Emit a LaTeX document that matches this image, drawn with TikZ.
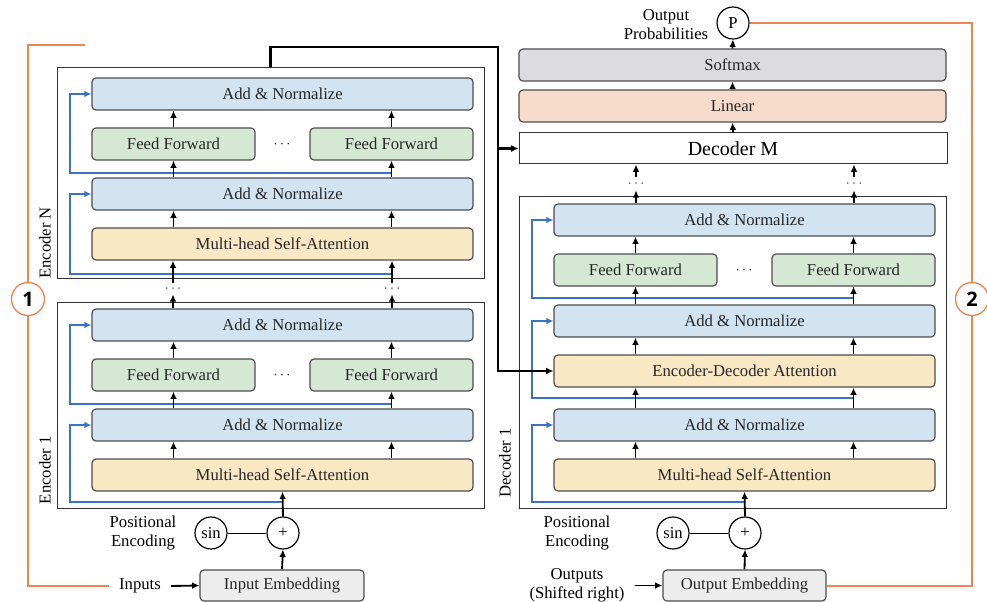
\documentclass[tikz,border=0pt]{standalone}
\usepackage{fontspec}
\setmainfont{Liberation Serif}
\newfontfamily\numfont{Open Sans}
\usetikzlibrary{arrows.meta,calc}

\definecolor{normblue}{HTML}{D2E3F2}
\definecolor{ffgreen}{HTML}{D5E8D4}
\definecolor{attnyellow}{HTML}{F9E8C3}
\definecolor{linsalmon}{HTML}{F8DCCB}
\definecolor{smgray}{HTML}{DCDCDF}
\definecolor{embgray}{HTML}{EDEDED}
\definecolor{resblue}{HTML}{3B72C3}
\definecolor{looporange}{HTML}{EE8450}

\tikzset{
  sz/.style 2 args={minimum width=#1*0.6pt, minimum height=#2*0.6pt},
  blk/.style={draw=black!70, line width=0.7pt, rounded corners=2.4pt, inner sep=0pt, text=black!85},
  outer/.style={draw=black!80, line width=0.6pt, fill=white, inner sep=0pt},
  arr/.style={line width=1.1pt, -{Latex[length=4.4pt,width=4pt]}},
  res/.style={resblue, line width=1.2pt, -{Latex[length=4.2pt,width=4pt]}},
  bus/.style={line width=1.3pt, -{Latex[length=4.4pt,width=4.2pt]}},
  loopline/.style={looporange, line width=0.8pt},
  circ/.style={circle, draw, fill=white, line width=0.7pt, minimum size=19.2pt, inner sep=0pt},
  stepnum/.style={circle, draw=looporange, fill=white, line width=0.8pt, minimum size=19.8pt,
    inner sep=0pt, font=\numfont\bfseries\fontsize{12}{12}\selectfont},
  lbl/.style={align=center, inner sep=0pt, font=\fontsize{10}{11.5}\selectfont},
  dotn/.style={inner sep=0pt, font=\scriptsize},
}

% one encoder layer, #1 = name prefix, #2 = vertical offset (px)
\NewDocumentCommand{\enclayer}{mm}{%
\node[blk, sz={381}{32}, fill=normblue] (#1an2) at (282.5,94+#2) {Add \& Normalize};%
\node[blk, sz={163}{32}, fill=ffgreen] (#1ffl) at (173.5,144+#2) {Feed Forward};%
\node[blk, sz={163}{32}, fill=ffgreen] (#1ffr) at (391.5,144+#2) {Feed Forward};%
\node[inner sep=0pt, font=\footnotesize] (#1ffdots) at (282,144+#2) {$\cdots$};%
\node[blk, sz={381}{32}, fill=normblue] (#1an1) at (282.5,194+#2) {Add \& Normalize};%
\node[blk, sz={381}{32}, fill=attnyellow] (#1att) at (282.5,244+#2) {Multi-head Self-Attention};%
\draw[res] ($(#1ffr.south)+(0,12)$) -| ($(#1an2.west)+(-21,0)$) -- (#1an2.west);%
\foreach \c in {ffl,ffr} {%
  \draw[arr] (#1att.north -| #1\c) -- (#1an1.south -| #1\c);
  \draw[arr] (#1an1.north -| #1\c) -- (#1\c.south);
  \draw[arr] (#1\c.north) -- (#1an2.south -| #1\c);
}%
}

\begin{document}
\begin{tikzpicture}[x=0.6pt, y=-0.6pt, font=\fontsize{10}{12}\selectfont]
\useasboundingbox (0,0) rectangle (987,602);

% encoder stack
\node[outer, sz={427}{211}] (encN) at (270.5,173.5) {};
\node[outer, sz={427}{205}] (enc1) at (270.5,405.5) {};
\node[rotate=90] (encNlbl) at (45,243) {Encoder N};
\node[rotate=90] (enc1lbl) at (45,470) {Encoder 1};
\enclayer{eN}{0}
\enclayer{e1}{231}
\draw[res] ($(eNatt.south -| eNffr)+(0,13)$) -| ($(eNan1.west)+(-21,0)$) -- (eNan1.west);
\draw[res] ($(e1att.south)+(0,10)$) -| ($(e1an1.west)+(-21,0)$) -- (e1an1.west);
\foreach \c/\x in {L/173,R/392} {
  \node[dotn, sz={20}{11}] (eDots\c) at (\x,288.5) {$\cdots$};
  \draw[arr] (e1an2.north -| eDots\c) -- (eDots\c.south);
  \draw[arr] (eDots\c.north) -- (eNatt.south -| eDots\c);
}

% encoder input
\node[blk, sz={164}{31}, fill=embgray] (iemb) at (282,585.5) {Input Embedding};
\node[circ] (eplus) at (283,533) {+};
\node[circ] (esin) at (211,533) {sin};
\node[lbl] (epos) at (143,533) {Positional\\Encoding};
\node[lbl] (inp) at (140,586) {Inputs};
\draw[line width=0.6pt] (esin) -- (eplus);
\draw[arr] (iemb.north) -- (eplus.south);
\draw[arr] (eplus.north) -- (e1att.south);
\draw[arr] ($(inp.east)+(10,0)$) -- (iemb.west);

% decoder stack
\node[outer, sz={427}{311}] (dec1) at (732.5,352.5) {};
\node[rotate=90] (dec1lbl) at (505,463) {Decoder 1};
\node[blk, sz={381}{32}, fill=normblue] (dan3) at (744.5,220) {Add \& Normalize};
\node[blk, sz={163}{32}, fill=ffgreen] (dffl) at (635.5,270) {Feed Forward};
\node[blk, sz={163}{32}, fill=ffgreen] (dffr) at (853.5,270) {Feed Forward};
\node[inner sep=0pt, font=\footnotesize] (dffdots) at (744,270) {$\cdots$};
\node[blk, sz={381}{32}, fill=normblue] (dan2) at (744.5,321) {Add \& Normalize};
\node[blk, sz={381}{32}, fill=attnyellow] (deda) at (744.5,371) {Encoder-Decoder Attention};
\node[blk, sz={381}{32}, fill=normblue] (dan1) at (744.5,425) {Add \& Normalize};
\node[blk, sz={381}{32}, fill=attnyellow] (datt) at (744.5,475) {Multi-head Self-Attention};
\draw[res] ($(dffr.south)+(0,11)$) -| ($(dan3.west)+(-21,0)$) -- (dan3.west);
\draw[res] ($(deda.south -| dffr)+(0,10)$) -| ($(dan2.west)+(-21,0)$) -- (dan2.west);
\draw[res] ($(datt.south)+(0,10)$) -| ($(dan1.west)+(-21,0)$) -- (dan1.west);
\foreach \c in {ffl,ffr} {
  \draw[arr] (datt.north -| d\c) -- (dan1.south -| d\c);
  \draw[arr] (dan1.north -| d\c) -- (deda.south -| d\c);
  \draw[arr] (deda.north -| d\c) -- (dan2.south -| d\c);
  \draw[arr] (dan2.north -| d\c) -- (d\c.south);
  \draw[arr] (d\c.north) -- (dan3.south -| d\c);
}

% decoder head
\node[outer, sz={428}{31}, font=\fontsize{12}{14}\selectfont] (decM) at (733,148.5) {Decoder M};
\node[blk, sz={427}{32}, fill=linsalmon] (lin) at (732.5,106) {Linear};
\node[blk, sz={427}{32}, fill=smgray] (soft) at (732.5,65) {Softmax};
\node[circ] (P) at (733,23) {P};
\node[lbl] (outprob) at (666,24.5) {Output\\Probabilities};
\foreach \c/\x in {L/636,R/854} {
  \node[dotn, sz={20}{13}] (dDots\c) at (\x,183.5) {$\cdots$};
  \draw[arr] (dan3.north -| dDots\c) -- (dDots\c.south);
  \draw[arr] (dDots\c.north) -- (decM.south -| dDots\c);
}
\draw[arr] (decM.north) -- (lin.south);
\draw[arr] (lin.north) -- (soft.south);
\draw[arr] (soft.north) -- (P.south);

% decoder input
\node[blk, sz={163}{31}, fill=embgray] (oemb) at (744.5,585.5) {Output Embedding};
\node[circ] (dplus) at (745,533) {+};
\node[circ] (dsin) at (673,533) {sin};
\node[lbl] (dpos) at (577,533) {Positional\\Encoding};
\node[lbl] (outp) at (577,585.5) {Outputs\\(Shifted right)};
\draw[line width=0.6pt] (dsin) -- (dplus);
\draw[arr] (oemb.north) -- (dplus.south);
\draw[arr] (dplus.north) -- (datt.south);
\draw[arr] ($(outp.east)+(10,0)$) -- (oemb.west);

% encoder to decoder
\coordinate (busTop) at (498,47);
\draw[bus] (encN.north) |- (busTop) |- (deda.west);
\draw[bus] (busTop |- decM.west) -- (decM.west);

% loops
\coordinate (loopEnd) at (85,45);
\draw[loopline] ($(inp.west)+(-10,0)$) -| (28,299) |- (loopEnd);
\node[stepnum] (c1) at (28,299) {1};
\draw[loopline] (P.east) -| (972,299) |- ($(oemb.east)+(0,0.5)$);
\node[stepnum] (c2) at (972,299) {2};
\end{tikzpicture}
\end{document}
